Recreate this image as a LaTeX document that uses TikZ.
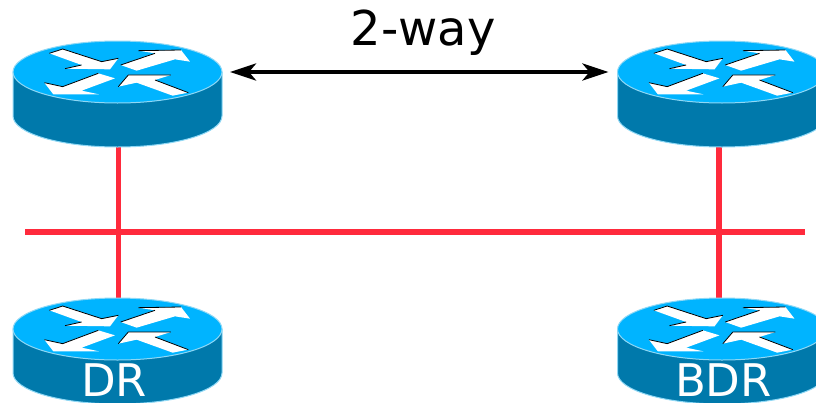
\documentclass[tikz,border=0pt]{standalone}
\usepackage{fontspec}
\setmainfont{DejaVu Sans}
\usetikzlibrary{shapes.geometric,arrows.meta}
\definecolor{rtop}{HTML}{00B4FF}
\definecolor{rbody}{HTML}{0079AB}
\definecolor{redge}{HTML}{8FD8F5}
\definecolor{rlink}{HTML}{FF2A3C}
\tikzset{
  routertop/.style={ellipse,draw=redge,line width=1pt,fill=rtop,minimum width=209pt,minimum height=62pt,inner sep=0pt,outer sep=0pt},
  routerbody/.style={fill=rbody,draw=redge,line width=1pt},
  glyph/.style={fill=white,draw=none},
  glyphedge/.style={draw=black,line width=0.8pt},
  netlink/.style={draw=rlink,line width=5.2pt},
  waylink/.style={draw=black,line width=4.2pt,{Stealth[length=26pt,width=17pt,inset=7pt]}-{Stealth[length=26pt,width=17pt,inset=7pt]},shorten <=8pt,shorten >=9pt},
  routerlabel/.style={text=white,font=\fontsize{45}{54}\selectfont,inner sep=0pt},
  waylabel/.style={text=black,font=\fontsize{48}{58}\selectfont,inner sep=0pt}
}
\newcommand{\routerat}[3]{%
  % #1 name, #2 x centre, #3 y centre of the top face
  \path[routerbody] (#2-104.5,#3) -- (#2-104.5,#3+44) arc[start angle=180,end angle=0,x radius=104.5,y radius=31] -- (#2+104.5,#3) -- cycle;
  \node[routertop] (#1) at (#2,#3) {};
  \begin{scope}[shift={(#2-117.5,#3-42)},x=0.3333pt,y=-0.3333pt]
    \fill[glyph] (148,70)--(188,57)--(305,95)--(355,85)--(330,118)--(195,116)--(245,105)--cycle;
    \draw[glyphedge] (148,70)--(188,57)--(305,95)--(355,85) (195,116)--(245,105);
    \fill[glyph] (362,105)--(465,70)--(415,62)--(543,60)--(570,95)--(525,88)--(410,122)--cycle;
    \draw[glyphedge] (362,105)--(465,70) (415,62)--(543,60);
    \fill[glyph] (133,158)--(188,170)--(295,130)--(345,145)--(245,182)--(297,193)--(160,193)--cycle;
    \draw[glyphedge] (133,158)--(188,170)--(295,130);
    \fill[glyph] (355,170)--(385,135)--(513,135)--(465,150)--(565,188)--(518,197)--(410,158)--cycle;
    \draw[glyphedge] (355,170)--(385,135)--(513,135) (465,150)--(565,188);
  \end{scope}
}
\begin{document}
\begin{tikzpicture}[x=1pt,y=-1pt]
\useasboundingbox (0,0) rectangle (816,402);
\coordinate (busL) at (25,232);
\coordinate (busR) at (805,232);
\coordinate (a) at (118.5,147);
\coordinate (b) at (118.5,300);
\coordinate (c) at (719,147);
\coordinate (d) at (719,300);
\draw[netlink] (busL) -- (busR);
\draw[netlink] (a) -- (b);
\draw[netlink] (c) -- (d);
\routerat{r1}{117.5}{72}
\routerat{r2}{722}{72}
\routerat{r3}{117.5}{329}
\routerat{r4}{722}{329}
\draw[waylink] (r1.east) -- (r2.west);
\node[waylabel] (way) at (423,33) {2-way};
\node[routerlabel] (dr) at (114,380) {DR};
\node[routerlabel] (bdr) at (723.5,380) {BDR};
\end{tikzpicture}
\end{document}
